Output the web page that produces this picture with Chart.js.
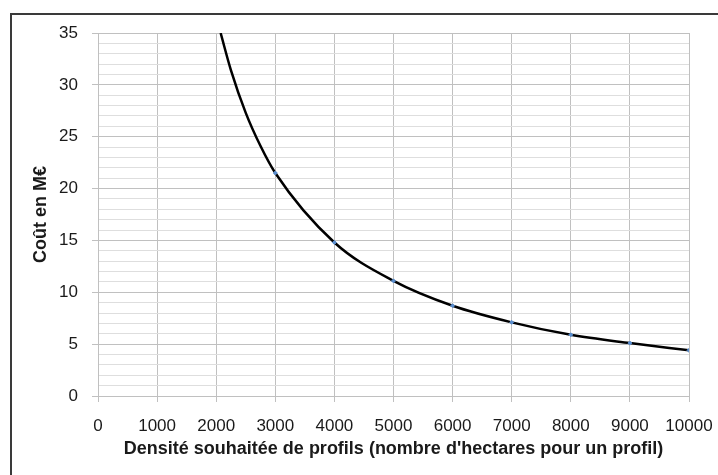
<!DOCTYPE html>
<html>
<head>
<meta charset="utf-8">
<script src="https://cdn.jsdelivr.net/npm/chart.js@4.4.1/dist/chart.umd.min.js"></script>
<style>
  html, body { margin: 0; padding: 0; background: #fff; }
  #wrap { position: relative; width: 718px; height: 475px; }
</style>
</head>
<body>
<div id="wrap"><canvas id="graphique" width="718" height="475"></canvas></div>
<script>
// Points mesurés (densité en ha par profil -> coût en M€)
var densites = [3000, 4000, 5000, 6000, 7000, 8000, 9000, 10000];
var couts = [21.5, 14.8, 11.1, 8.7, 7.1, 5.9, 5.1, 4.4];

// Courbe de tendance (début au-dessus de 3000)
var tendanceX = [2075, 2250, 2500, 2750, 3000, 4000, 5000, 6000, 7000, 8000, 9000, 10000];
var tendanceY = [35, 31.4, 27.3, 24.1, 21.5, 14.8, 11.1, 8.7, 7.1, 5.9, 5.1, 4.4];

var ticksX = [0, 1000, 2000, 3000, 4000, 5000, 6000, 7000, 8000, 9000, 10000];

var pointsMesures = densites.map(function (d, i) { return { x: d, y: couts[i] }; });
var pointsTendance = tendanceX.map(function (d, i) { return { x: d, y: tendanceY[i] }; });

// cadre gauche + haut comme dans la capture
var cadre = {
    id: 'cadre',
    afterDraw: function (chart) {
        var c = chart.ctx;
        c.save();
        c.strokeStyle = '#3a3a3a';
        c.lineWidth = 2;
        c.beginPath();
        c.moveTo(11, 476);
        c.lineTo(11, 14);
        c.lineTo(718, 14);
        c.stroke();
        c.restore();
    }
};

new Chart(document.getElementById('graphique'), {
    type: 'scatter',
    data: {
        datasets: [{
            label: 'Tendance',
            data: pointsTendance,
            showLine: true,
            borderColor: '#000',
            borderWidth: 2.5,
            pointRadius: 0,
            cubicInterpolationMode: 'monotone',
            order: 2
        }, {
            label: 'Coût',
            data: pointsMesures,
            backgroundColor: '#5b8fd0',
            borderColor: '#5b8fd0',
            pointRadius: 2,
            pointStyle: 'rectRot',
            order: 1
        }]
    },
    options: {
        responsive: false,
        animation: false,
        layout: { padding: { top: 33, right: 29, left: 0, bottom: 0 } },
        plugins: { legend: { display: false }, tooltip: { enabled: false } },
        scales: {
            x: {
                type: 'linear',
                min: 0,
                max: 10000,
                afterBuildTicks: function (scale) {
                    scale.ticks = ticksX.map(function (v) { return { value: v }; });
                },
                afterFit: function (scale) {
                    scale.height = 79;
                    scale.paddingRight = 0;
                    scale.paddingLeft = 0;
                },
                grid: { color: '#c0c0c0', tickLength: 6, tickColor: '#c0c0c0' },
                border: { color: '#c0c0c0' },
                ticks: {
                    color: '#1a1a1a',
                    font: { family: 'Liberation Sans', size: 17 },
                    maxRotation: 0,
                    autoSkip: false,
                    padding: 14,
                    callback: function (v) { return String(v); }
                },
                title: {
                    display: true,
                    text: "Densité souhaitée de profils (nombre d'hectares pour un profil)",
                    color: '#1a1a1a',
                    font: { family: 'Liberation Sans', size: 18, weight: 'bold' },
                    padding: { top: 0, bottom: 15 }
                }
            },
            y: {
                min: 0,
                max: 35,
                afterFit: function (scale) { scale.width = 98; },
                grid: {
                    color: function (ctx) {
                        return ctx.tick && ctx.tick.value % 5 === 0 ? '#c0c0c0' : '#dedede';
                    },
                    tickLength: 6,
                    tickColor: function (ctx) {
                        return ctx.tick && ctx.tick.value % 5 === 0 ? '#c0c0c0' : 'rgba(0,0,0,0)';
                    }
                },
                border: { color: '#c0c0c0' },
                ticks: {
                    stepSize: 1,
                    autoSkip: false,
                    color: '#1a1a1a',
                    font: { family: 'Liberation Sans', size: 17 },
                    padding: 14,
                    callback: function (v) { return v % 5 === 0 ? v : ''; }
                },
                title: {
                    display: true,
                    text: 'Coût en M€',
                    color: '#1a1a1a',
                    font: { family: 'Liberation Sans', size: 18, weight: 'bold' },
                    padding: { top: 30, bottom: 0 }
                }
            }
        }
    },
    plugins: [cadre]
});
</script>
</body>
</html>
